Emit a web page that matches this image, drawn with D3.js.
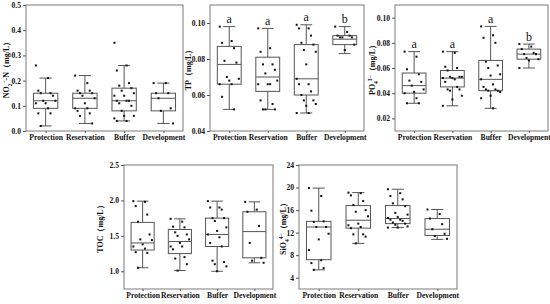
<!DOCTYPE html>
<html lang="en">
<head>
<meta charset="UTF-8">
<title>Water quality box plots</title>
<script src="https://cdnjs.cloudflare.com/ajax/libs/d3/7.8.5/d3.min.js"></script>
<style>
  body { margin: 0; background: #fff; }
  svg { display: block; }
</style>
</head>
<body>
<script>
// categories shared by every panel
const categories = ["Protection", "Reservation", "Buffer", "Development"];

// box stats per category: [whisker low, Q1, median, Q3, whisker high]
const no2Stats = [[0.02, 0.09, 0.12, 0.15, 0.21], [0.03, 0.09, 0.13, 0.15, 0.22], [0.04, 0.08, 0.12, 0.17, 0.26], [0.03, 0.08, 0.13, 0.15, 0.19]];
const no2Points = [
  [0.26, 0.21, 0.16, 0.15, 0.15, 0.14, 0.12, 0.12, 0.11, 0.11, 0.09, 0.07, 0.07, 0.02],
  [0.22, 0.19, 0.16, 0.16, 0.15, 0.15, 0.14, 0.13, 0.11, 0.09, 0.09, 0.08, 0.07, 0.06, 0.03],
  [0.35, 0.26, 0.24, 0.19, 0.18, 0.17, 0.16, 0.15, 0.14, 0.14, 0.12, 0.12, 0.12, 0.11, 0.10, 0.08, 0.06, 0.06, 0.05, 0.04, 0.04],
  [0.19, 0.19, 0.15, 0.15, 0.13, 0.09, 0.08, 0.03]
];
const no2Ticks = [0, 0.1, 0.2, 0.3, 0.4, 0.5];

const tpStats = [[0.052, 0.066, 0.077, 0.087, 0.098], [0.052, 0.062, 0.070, 0.081, 0.097], [0.050, 0.060, 0.069, 0.088, 0.099], [0.083, 0.088, 0.091, 0.093, 0.098]];
const tpPoints = [
  [0.098, 0.090, 0.089, 0.086, 0.079, 0.078, 0.070, 0.069, 0.068, 0.066, 0.066, 0.059, 0.052],
  [0.097, 0.086, 0.084, 0.077, 0.077, 0.074, 0.072, 0.068, 0.066, 0.066, 0.066, 0.057, 0.055, 0.052, 0.052, 0.052],
  [0.099, 0.097, 0.097, 0.093, 0.089, 0.088, 0.085, 0.084, 0.077, 0.069, 0.066, 0.066, 0.062, 0.060, 0.057, 0.057, 0.055, 0.054, 0.050, 0.050],
  [0.098, 0.095, 0.093, 0.093, 0.092, 0.092, 0.092, 0.088, 0.085]
];
const tpTicks = [0.04, 0.06, 0.08, 0.10];
const tpLetters = ["a", "a", "a", "b"];

const po4Stats = [[0.032, 0.040, 0.046, 0.056, 0.073], [0.030, 0.045, 0.052, 0.058, 0.073], [0.028, 0.042, 0.051, 0.066, 0.093], [0.060, 0.067, 0.071, 0.075, 0.079]];
const po4Points = [
  [0.073, 0.069, 0.059, 0.055, 0.050, 0.049, 0.046, 0.043, 0.041, 0.040, 0.036, 0.032, 0.032],
  [0.073, 0.072, 0.061, 0.060, 0.058, 0.053, 0.053, 0.053, 0.052, 0.052, 0.051, 0.049, 0.045, 0.043, 0.043, 0.042, 0.038, 0.035, 0.030],
  [0.093, 0.086, 0.084, 0.080, 0.065, 0.062, 0.060, 0.055, 0.054, 0.051, 0.047, 0.045, 0.043, 0.043, 0.042, 0.042, 0.041, 0.038, 0.036, 0.028],
  [0.079, 0.077, 0.075, 0.072, 0.071, 0.071, 0.068, 0.067, 0.066, 0.060]
];
const po4Ticks = [0.02, 0.04, 0.06, 0.08, 0.10];
const po4Letters = ["a", "a", "a", "b"];

const tocStats = [[1.05, 1.30, 1.40, 1.69, 1.99], [1.01, 1.25, 1.42, 1.59, 1.74], [1.00, 1.35, 1.52, 1.75, 1.99], [1.12, 1.19, 1.56, 1.84, 1.98]];
const tocPoints = [
  [1.99, 1.98, 1.92, 1.80, 1.70, 1.52, 1.45, 1.44, 1.38, 1.35, 1.32, 1.27, 1.26, 1.05],
  [1.74, 1.70, 1.63, 1.62, 1.55, 1.52, 1.50, 1.45, 1.40, 1.35, 1.35, 1.31, 1.20, 1.18, 1.10, 1.01],
  [1.99, 1.90, 1.90, 1.87, 1.75, 1.75, 1.71, 1.62, 1.57, 1.52, 1.48, 1.40, 1.35, 1.15, 1.13, 1.10, 1.07, 1.00],
  [1.98, 1.87, 1.84, 1.64, 1.40, 1.19, 1.15, 1.12]
];
const tocTicks = [1.0, 1.5, 2.0, 2.5];

const sioStats = [[5.4, 7.2, 13.0, 14.0, 19.9], [10.1, 12.8, 14.2, 16.8, 19.1], [12.9, 13.6, 14.5, 16.8, 19.7], [10.8, 11.5, 12.6, 14.5, 16.1]];
const sioPoints = [
  [19.9, 18.5, 15.9, 14.0, 13.9, 13.0, 13.0, 11.8, 10.8, 8.9, 7.1, 6.6, 5.7, 5.4],
  [19.1, 19.0, 18.6, 17.6, 16.9, 16.0, 15.7, 14.9, 13.6, 13.3, 13.0, 12.8, 11.7, 11.7, 11.3, 10.1],
  [19.7, 19.0, 18.5, 17.9, 17.2, 16.7, 15.5, 15.2, 14.8, 14.6, 14.3, 14.3, 14.1, 13.8, 13.6, 13.4, 13.1, 12.9, 12.9],
  [16.1, 15.3, 14.5, 13.5, 12.6, 11.8, 11.4, 10.9]
];
const sioTicks = [4, 8, 12, 16, 20, 24];

// panel setup (frame boxes in px, axis domains, y titles as [text, shift] parts)
const panels = [
  { box: [26, 183, 5, 131], domain: [0, 0.5], ticks: no2Ticks, fmt: ".1f", stats: no2Stats, points: no2Points, letters: null, labelX: 9,
    title: [["NO", null], ["2", "sub"], ["−", "super"], ["-N（mg/L）", null]] },
  { box: [210, 364, 5, 131], domain: [0.04, 0.11], ticks: tpTicks, fmt: ".2f", stats: tpStats, points: tpPoints, letters: tpLetters, labelX: 191,
    title: [["TP（mg/L）", null]] },
  { box: [395, 548, 5, 131], domain: [0.01, 0.11], ticks: po4Ticks, fmt: ".2f", stats: po4Stats, points: po4Points, letters: po4Letters, labelX: 375,
    title: [["PO", null], ["4", "sub"], ["3−", "super"], ["（mg/L）", null]] },
  { box: [124, 273, 165, 289], domain: [0.75, 2.5], ticks: tocTicks, fmt: ".1f", stats: tocStats, points: tocPoints, letters: null, labelX: 103,
    title: [["TOC（mg/L）", null]] },
  { box: [299, 457, 165, 289], domain: [2, 24], ticks: sioTicks, fmt: "d", stats: sioStats, points: sioPoints, letters: null, labelX: 286,
    title: [["SiO", null], ["4", "sub"], ["4−", "super"], ["（mg/L）", null]] }
];

const svg = d3.select("body").append("svg")
  .attr("width", 550)
  .attr("height", 304);

const serif = "'Liberation Serif', 'Times New Roman', serif";

panels.forEach(function(p) {
  const [x0, x1, y0, y1] = p.box;
  const x = d3.scalePoint().domain(categories).range([x0, x1]).padding(0.5);
  const y = d3.scaleLinear().domain(p.domain).range([y1, y0]);
  const bw = x.step() * 0.62;
  const g = svg.append("g");

  // frame
  g.append("rect")
    .attr("x", x0).attr("y", y0)
    .attr("width", x1 - x0).attr("height", y1 - y0)
    .attr("fill", "none").attr("stroke", "#7a7a7a").attr("stroke-width", 1);

  // axes
  const ya = g.append("g").attr("transform", "translate(" + x0 + ",0)")
    .call(d3.axisLeft(y).tickValues(p.ticks).tickFormat(d3.format(p.fmt)).tickSize(3).tickPadding(2));
  const xa = g.append("g").attr("transform", "translate(0," + y1 + ")")
    .call(d3.axisBottom(x).tickSize(2).tickPadding(2));
  [ya, xa].forEach(function(a) {
    a.select(".domain").remove();
    a.selectAll("line").attr("stroke", "#555");
    a.selectAll("text").attr("fill", "#111")
      .style("font-family", serif).style("font-weight", "bold").style("font-size", "7.6px");
  });

  // y title
  const t = g.append("text")
    .attr("transform", "translate(" + p.labelX + "," + ((y0 + y1) / 2) + ") rotate(-90)")
    .attr("text-anchor", "middle")
    .style("font-family", serif).style("font-weight", "bold").style("font-size", "8px")
    .attr("fill", "#111");
  p.title.forEach(function(part) {
    const s = t.append("tspan").text(part[0]);
    if (part[1]) s.attr("baseline-shift", part[1]).style("font-size", "5.5px");
  });

  // boxes
  categories.forEach(function(c, i) {
    const s = p.stats[i];
    const cx = x(c);
    const bg = g.append("g").attr("stroke", "#555").attr("stroke-width", 1).attr("fill", "none");
    bg.append("line").attr("x1", cx).attr("x2", cx).attr("y1", y(s[0])).attr("y2", y(s[1]));
    bg.append("line").attr("x1", cx).attr("x2", cx).attr("y1", y(s[3])).attr("y2", y(s[4]));
    [s[0], s[4]].forEach(function(v) {
      bg.append("line").attr("x1", cx - bw / 4).attr("x2", cx + bw / 4).attr("y1", y(v)).attr("y2", y(v));
    });
    bg.append("rect").attr("x", cx - bw / 2).attr("width", bw)
      .attr("y", y(s[3])).attr("height", y(s[1]) - y(s[3]));
    bg.append("line").attr("x1", cx - bw / 2).attr("x2", cx + bw / 2).attr("y1", y(s[2])).attr("y2", y(s[2]));

    // scattered points, spread sideways in a fixed pattern
    g.selectAll(null).data(p.points[i]).enter().append("rect")
      .attr("x", function(d, j) { return cx + (((j * 5) % 9) - 4) / 4 * bw * 0.4 - 1; })
      .attr("y", function(d) { return y(d) - 1; })
      .attr("width", 2).attr("height", 2)
      .attr("fill", "#111");

    if (p.letters) {
      g.append("text")
        .attr("x", cx).attr("y", y(s[4]) - 3.5)
        .attr("text-anchor", "middle")
        .style("font-family", serif).style("font-size", "12px")
        .attr("fill", "#111")
        .text(p.letters[i]);
    }
  });
});
</script>
</body>
</html>
